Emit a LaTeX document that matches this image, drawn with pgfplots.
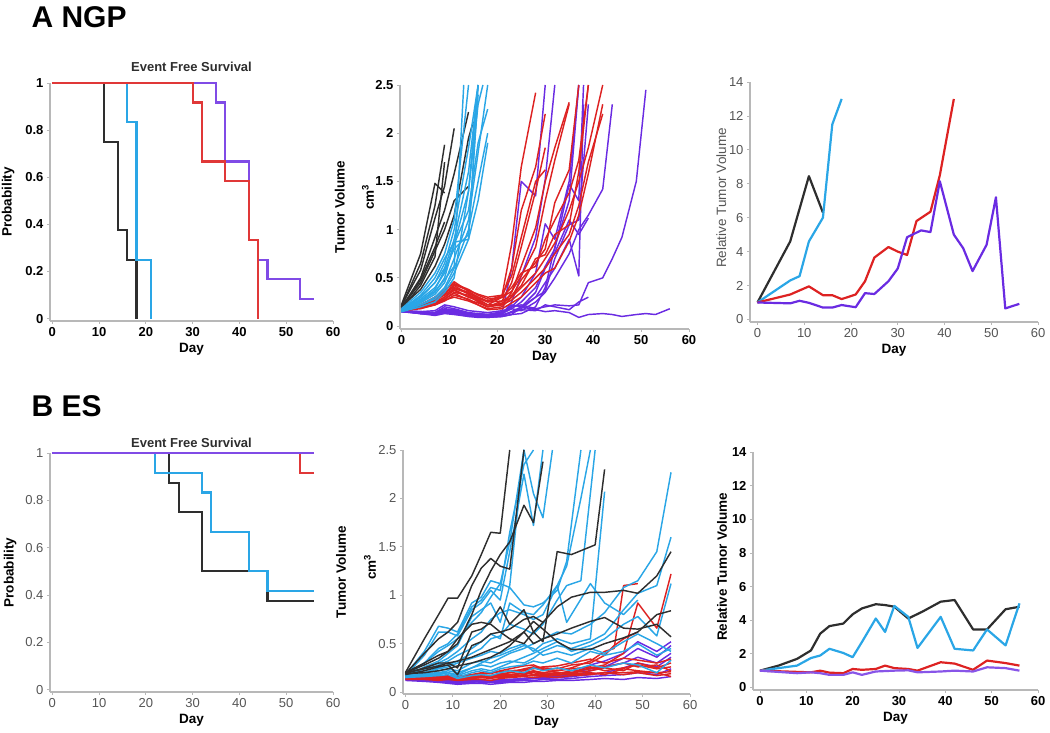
\documentclass[border=0pt]{standalone}
\usepackage{fontspec}
\setmainfont{Liberation Sans}
\usepackage{pgfplots}
\pgfplotsset{compat=1.18}
\definecolor{cblk}{HTML}{2E2E2E}
\definecolor{ccyan}{HTML}{2AA6E6}
\definecolor{cred}{HTML}{DD2222}
\definecolor{cpur}{HTML}{6A2BE2}
\definecolor{axgray}{HTML}{B8B8B8}
\definecolor{tkgray}{HTML}{555555}
\pgfplotsset{
  base/.style={scale only axis, axis lines=left,
    axis line style={draw=axgray, line width=1.2pt, -},
    tick style={draw=axgray, line width=0.8pt}, tick align=outside, major tick length=3pt,
    /pgf/number format/assume math mode=true,
    xtick={0,10,20,30,40,50,60}, clip=false,
    xlabel={Day},
    xlabel style={at={(axis description cs:0.5,0)}, anchor=center, yshift=-28pt, font=\fontsize{13.5}{15}\selectfont\bfseries},
    ylabel style={anchor=center, font=\fontsize{13.5}{15}\selectfont\bfseries},
    ticklabel style={font=\fontsize{13}{14}\selectfont},
  },
  boldticks/.style={ticklabel style={font=\fontsize{13}{14}\selectfont\bfseries, text=black}},
  grayticks/.style={ticklabel style={font=\fontsize{13}{14}\selectfont, text=tkgray}},
  km/.style={line width=2.1pt, const plot, no markers, line join=miter},
  sp/.style={line width=1.45pt, no markers, line join=round},
  rt/.style={line width=2.2pt, no markers, line join=round},
}
\begin{document}
\begin{tikzpicture}
\path[use as bounding box] (0,0) rectangle (1050pt,733pt);
\node[anchor=west, font=\fontsize{30}{32}\selectfont\bfseries] at (28pt,716pt) {A NGP};
\node[anchor=west, font=\fontsize{30}{32}\selectfont\bfseries] at (28pt,327pt) {B ES};

% ---------- TL: Event free survival NGP
\begin{axis}[base, boldticks, at={(50pt,412pt)}, anchor=south west, width=283pt, height=238pt,
  xmin=-0.5, xmax=60, ymin=-0.01, ymax=1, ytick={0,0.2,0.4,0.6,0.8,1},
  ylabel={Probability}, ylabel style={at={(axis description cs:-0.148,0.5)}}]
\addplot[km, cblk] coordinates {(0,1)(11,0.75)(14,0.375)(16,0.25)(18,0)};
\addplot[km, ccyan] coordinates {(0,1)(16,0.833)(18,0.25)(21,0)};
\addplot[km, cpur!85] coordinates {(0,1)(35,0.917)(37,0.667)(42,0.333)(44,0.25)(46,0.167)(53,0.083)(56,0.083)};
\addplot[km, cred!90] coordinates {(0,1)(30,0.917)(32,0.667)(37,0.583)(42,0.333)(44,0)};
\node[font=\fontsize{13}{14}\selectfont\bfseries, text=cblk] at (rel axis cs:0.5,1) [yshift=16pt] {Event Free Survival};
\end{axis}

% ---------- TM: tumor volume NGP
\begin{axis}[base, boldticks, at={(400pt,404pt)}, anchor=south west, width=289pt, height=244pt,
  xmin=-0.3, xmax=60, ymin=-0.03, ymax=2.5, ytick={0,0.5,1,1.5,2,2.5},
  ylabel={Tumor Volume}, ylabel style={at={(axis description cs:-0.208,0.5)}}]
% purple
\addplot[sp, cpur] coordinates {(0,0.16)(4,0.14)(7,0.13)(9,0.16)(11,0.15)(14,0.12)(16,0.12)(18,0.11)(21,0.14)(23,0.6)(25,1.5)(28,1.35)(30,2.5)};
\addplot[sp, cpur] coordinates {(0,0.15)(4,0.13)(7,0.12)(9,0.15)(11,0.14)(14,0.11)(16,0.1)(18,0.1)(21,0.12)(23,0.25)(25,0.52)(28,0.92)(30,1.52)(32,2.5)};
\addplot[sp, cpur] coordinates {(0,0.16)(4,0.15)(7,0.14)(9,0.2)(11,0.18)(14,0.14)(16,0.13)(18,0.12)(21,0.15)(23,0.2)(25,0.3)(28,0.55)(30,1.06)(32,0.9)(35,1.5)(37,2.5)};
\addplot[sp, cpur] coordinates {(0,0.15)(4,0.14)(7,0.12)(9,0.14)(11,0.16)(14,0.13)(16,0.12)(18,0.11)(21,0.13)(23,0.18)(25,0.25)(28,0.4)(30,0.62)(32,0.8)(35,1.47)(37,1.3)(38,2.5)};
\addplot[sp, cpur] coordinates {(0,0.16)(4,0.13)(7,0.11)(9,0.13)(11,0.12)(14,0.1)(16,0.1)(18,0.09)(21,0.1)(23,0.15)(25,0.2)(28,0.3)(30,0.45)(32,0.6)(35,0.9)(37,0.52)(38,2.3)};
\addplot[sp, cpur] coordinates {(0,0.15)(4,0.15)(7,0.16)(9,0.22)(11,0.2)(14,0.16)(16,0.15)(18,0.14)(21,0.16)(23,0.18)(25,0.16)(28,0.25)(30,0.35)(32,0.5)(35,0.75)(37,1.0)(39,1.15)(42,1.42)(44,2.3)};
\addplot[sp, cpur] coordinates {(0,0.16)(4,0.14)(7,0.13)(9,0.15)(11,0.14)(14,0.12)(16,0.13)(18,0.12)(21,0.14)(23,0.2)(25,0.22)(28,0.18)(30,0.2)(32,0.22)(35,0.21)(37,0.22)(39,0.45)(42,0.5)(44,0.7)(46,0.92)(49,1.5)(51,2.45)};
\addplot[sp, cpur] coordinates {(0,0.15)(4,0.13)(7,0.12)(9,0.14)(11,0.13)(14,0.11)(16,0.12)(18,0.1)(21,0.13)(23,0.22)(25,0.2)(28,0.17)(30,0.15)(32,0.16)(35,0.14)(37,0.09)(39,0.12)(42,0.13)(44,0.12)(46,0.1)(49,0.12)(51,0.13)(53,0.12)(56,0.18)};
\addplot[sp, cpur] coordinates {(0,0.16)(4,0.15)(7,0.14)(9,0.17)(11,0.16)(14,0.13)(16,0.12)(18,0.12)(21,0.11)(23,0.15)(25,0.18)(28,0.3)(30,0.36)(32,0.7)(35,1.05)(37,1.1)(39,2.3)};
\addplot[sp, cpur] coordinates {(0,0.15)(4,0.14)(7,0.13)(9,0.16)(11,0.15)(14,0.12)(16,0.11)(18,0.1)(21,0.1)(23,0.12)(25,0.2)(28,0.35)(30,0.6)(32,0.76)(35,1.1)(37,0.95)(39,1.12)};
\addplot[sp, cpur] coordinates {(0,0.16)(4,0.13)(7,0.12)(9,0.14)(11,0.13)(14,0.1)(16,0.09)(18,0.09)(21,0.1)(23,0.12)(25,0.13)(28,0.2)(30,0.4)(32,0.82)(35,1.3)(37,2.5)};
\addplot[sp, cpur] coordinates {(0,0.15)(4,0.14)(7,0.14)(9,0.18)(11,0.17)(14,0.13)(16,0.12)(18,0.11)(21,0.12)(23,0.14)(25,0.17)(28,0.16)(30,0.22)(32,0.2)(35,0.17)(37,0.25)(39,0.3)};
% red
\addplot[sp, cred] coordinates {(0,0.18)(4,0.22)(7,0.3)(9,0.36)(11,0.46)(14,0.36)(16,0.3)(18,0.26)(21,0.32)(23,0.85)(25,1.65)(28,2.42)};
\addplot[sp, cred] coordinates {(0,0.17)(4,0.2)(7,0.26)(9,0.33)(11,0.42)(14,0.33)(16,0.27)(18,0.22)(21,0.3)(23,0.6)(25,1.2)(28,1.65)(30,2.2)};
\addplot[sp, cred] coordinates {(0,0.16)(4,0.19)(7,0.24)(9,0.3)(11,0.38)(14,0.3)(16,0.26)(18,0.2)(21,0.26)(23,0.45)(25,0.82)(28,1.4)(30,1.85)};
\addplot[sp, cred] coordinates {(0,0.17)(4,0.21)(7,0.28)(9,0.35)(11,0.4)(14,0.35)(16,0.28)(18,0.22)(21,0.22)(23,0.35)(25,0.62)(28,1.02)(30,1.5)(32,1.85)(35,2.32)};
\addplot[sp, cred] coordinates {(0,0.16)(4,0.19)(7,0.23)(9,0.28)(11,0.35)(14,0.32)(16,0.25)(18,0.2)(21,0.24)(23,0.3)(25,0.48)(28,0.66)(30,0.8)(32,1.28)(35,1.62)(37,2.5)};
\addplot[sp, cred] coordinates {(0,0.17)(4,0.2)(7,0.25)(9,0.3)(11,0.37)(14,0.3)(16,0.29)(18,0.25)(21,0.3)(23,0.4)(25,0.55)(28,0.62)(30,0.9)(32,1.1)(35,1.38)(37,1.72)(39,2.5)};
\addplot[sp, cred] coordinates {(0,0.16)(4,0.18)(7,0.22)(9,0.26)(11,0.32)(14,0.28)(16,0.22)(18,0.18)(21,0.2)(23,0.3)(25,0.4)(28,0.55)(30,0.7)(32,0.86)(35,1.2)(37,1.5)(39,1.85)(42,2.5)};
\addplot[sp, cred] coordinates {(0,0.17)(4,0.2)(7,0.24)(9,0.28)(11,0.34)(14,0.27)(16,0.24)(18,0.2)(21,0.22)(23,0.27)(25,0.35)(28,0.5)(30,0.6)(32,0.75)(35,0.95)(37,1.25)(39,1.7)(42,2.2)};
\addplot[sp, cred] coordinates {(0,0.16)(4,0.19)(7,0.22)(9,0.27)(11,0.3)(14,0.26)(16,0.22)(18,0.17)(21,0.18)(23,0.24)(25,0.3)(28,0.45)(30,0.55)(32,0.6)(35,0.88)(37,1.15)(39,1.58)(42,2.3)};
\addplot[sp, cred] coordinates {(0,0.18)(4,0.22)(7,0.3)(9,0.38)(11,0.44)(14,0.38)(16,0.32)(18,0.28)(21,0.3)(23,0.36)(25,0.52)(28,0.82)(30,1.3)(32,1.72)(35,2.3)};
\addplot[sp, cred] coordinates {(0,0.17)(4,0.2)(7,0.27)(9,0.32)(11,0.39)(14,0.34)(16,0.3)(18,0.25)(21,0.26)(23,0.32)(25,0.42)(28,0.7)(30,0.74)(32,0.95)(35,1.05)(37,1.6)(39,2.5)};
\addplot[sp, cred] coordinates {(0,0.16)(4,0.21)(7,0.29)(9,0.34)(11,0.43)(14,0.37)(16,0.33)(18,0.3)(21,0.32)(23,0.52)(25,0.92)(28,1.5)(30,1.62)};
% black
\addplot[sp, cblk] coordinates {(0,0.22)(4,0.75)(7,1.48)(9,1.38)};
\addplot[sp, cblk] coordinates {(0,0.2)(4,0.65)(7,1.25)(9,1.88)};
\addplot[sp, cblk] coordinates {(0,0.21)(4,0.58)(7,1.12)(9,1.45)(11,2.05)};
\addplot[sp, cblk] coordinates {(0,0.19)(4,0.5)(7,0.92)(9,1.2)(11,1.58)(14,2.22)};
\addplot[sp, cblk] coordinates {(0,0.2)(4,0.45)(7,0.78)(9,1.0)(11,1.3)(14,1.45)};
\addplot[sp, cblk] coordinates {(0,0.18)(4,0.42)(7,0.72)(9,1.7)};
\addplot[sp, cblk] coordinates {(0,0.2)(4,0.38)(7,0.62)(9,0.85)(11,1.15)(14,1.95)(15,2.12)};
\addplot[sp, cblk] coordinates {(0,0.19)(4,0.48)(7,0.82)(9,1.08)};
% cyan
\addplot[sp, ccyan] coordinates {(0,0.18)(4,0.35)(7,0.55)(9,0.75)(11,1.1)(14,2.5)};
\addplot[sp, ccyan] coordinates {(0,0.17)(4,0.3)(7,0.45)(9,0.6)(11,0.9)(14,1.6)(16,2.5)};
\addplot[sp, ccyan] coordinates {(0,0.16)(4,0.28)(7,0.4)(9,0.55)(11,0.85)(14,1.4)(16,2.3)(17,2.5)};
\addplot[sp, ccyan] coordinates {(0,0.15)(4,0.25)(7,0.35)(9,0.5)(11,0.85)(14,1.2)(16,1.9)(18,2.25)};
\addplot[sp, ccyan] coordinates {(0,0.16)(4,0.22)(7,0.3)(9,0.4)(11,0.6)(14,1.0)(16,1.5)(18,2.0)};
\addplot[sp, ccyan] coordinates {(0,0.15)(4,0.2)(7,0.25)(9,0.35)(11,0.5)(14,1.4)(16,2.5)};
\addplot[sp, ccyan] coordinates {(0,0.17)(4,0.32)(7,0.5)(9,0.7)(11,0.87)(14,0.9)(16,2.5)};
\addplot[sp, ccyan] coordinates {(0,0.16)(4,0.3)(7,0.45)(9,0.65)(11,1.0)(14,1.85)(16,2.5)};
\addplot[sp, ccyan] coordinates {(0,0.15)(4,0.24)(7,0.33)(9,0.45)(11,0.7)(14,1.1)(16,1.8)(18,2.5)};
\addplot[sp, ccyan] coordinates {(0,0.16)(4,0.26)(7,0.38)(9,0.58)(11,0.8)(14,0.95)(16,2.4)};
\addplot[sp, ccyan] coordinates {(0,0.15)(4,0.22)(7,0.28)(9,0.38)(11,0.55)(14,0.9)(16,1.3)(18,1.9)};
\addplot[sp, ccyan] coordinates {(0,0.16)(4,0.27)(7,0.36)(9,0.48)(11,0.62)(13,2.5)};
\node[rotate=90, font=\fontsize{13.5}{15}\selectfont\bfseries] at (rel axis cs:-0.111,0.54) {cm\textsuperscript{3}};
\end{axis}

% ---------- TR: relative tumor volume NGP
\begin{axis}[base, grayticks, at={(750pt,411pt)}, anchor=south west, width=288pt, height=240pt,
  xmin=-1.6, xmax=60, ymin=-0.15, ymax=14, ytick={0,2,4,6,8,10,12,14},
  ylabel={Relative Tumor Volume}, ylabel style={at={(axis description cs:-0.10,0.517)}, font=\fontsize{13.5}{15}\selectfont, text=tkgray}]
\addplot[rt, cblk] coordinates {(0,1)(7,4.6)(11,8.45)(14,6.3)};
\addplot[rt, ccyan] coordinates {(0,1)(7,2.3)(9,2.55)(11,4.6)(14,6)(16,11.5)(18,13)};
\addplot[rt, cred] coordinates {(0,1)(7,1.47)(11,1.95)(14,1.43)(16,1.43)(18,1.2)(21,1.47)(23,2.25)(25,3.65)(28,4.27)(30,4.0)(32,3.8)(34,5.8)(37,6.35)(39,8.5)(42,13)};
\addplot[rt, cpur] coordinates {(0,1)(7,0.95)(9,1.1)(11,0.98)(14,0.7)(16,0.7)(18,0.85)(21,0.72)(23,1.55)(25,1.5)(28,2.25)(30,3.0)(32,4.85)(35,5.25)(37,5.15)(39,8.15)(42,5.0)(44,4.2)(46,2.85)(49,4.4)(51,7.2)(53,0.65)(56,0.92)};
\end{axis}

% ---------- BL: Event free survival ES
\begin{axis}[base, grayticks, at={(50pt,41pt)}, anchor=south west, width=283pt, height=239pt,
  xmin=-0.5, xmax=60, ymin=-0.01, ymax=1, ytick={0,0.2,0.4,0.6,0.8,1},
  ylabel={Probability}, ylabel style={at={(axis description cs:-0.141,0.5)}}]
\addplot[km, cblk] coordinates {(0,1)(25,0.875)(27,0.75)(32,0.5)(46,0.375)(56,0.375)};
\addplot[km, ccyan] coordinates {(0,1)(22,0.917)(32,0.833)(34,0.667)(42,0.5)(46,0.417)(56,0.417)};
\addplot[km, cred!90] coordinates {(0,1)(53,0.917)(56,0.917)};
\addplot[km, cpur!85] coordinates {(0,1)(56,1)};
\node[font=\fontsize{13}{14}\selectfont\bfseries, text=cblk] at (rel axis cs:0.5,1) [yshift=10pt] {Event Free Survival};
\end{axis}

% ---------- BM: tumor volume ES
\begin{axis}[base, grayticks, at={(403pt,39pt)}, anchor=south west, width=287pt, height=244pt,
  xmin=-0.5, xmax=60, ymin=-0.02, ymax=2.5, ytick={0,0.5,1,1.5,2,2.5},
  ylabel={Tumor Volume}, ylabel style={at={(axis description cs:-0.216,0.5)}}]
% purple
\addplot[sp, cpur] coordinates {(0,0.14)(4,0.12)(7,0.11)(9,0.1)(11,0.09)(14,0.1)(16,0.11)(18,0.1)(20,0.12)(22,0.12)(25,0.14)(27,0.15)(29,0.15)(32,0.16)(35,0.18)(39,0.28)(42,0.32)(46,0.4)(49,0.52)(53,0.42)(56,0.52)};
\addplot[sp, cpur] coordinates {(0,0.13)(4,0.12)(7,0.11)(9,0.11)(11,0.1)(14,0.11)(16,0.11)(18,0.1)(20,0.11)(22,0.12)(25,0.13)(27,0.14)(29,0.14)(32,0.15)(35,0.16)(39,0.22)(42,0.26)(46,0.35)(49,0.45)(53,0.36)(56,0.48)};
\addplot[sp, cpur] coordinates {(0,0.14)(4,0.13)(7,0.12)(9,0.12)(11,0.11)(14,0.12)(16,0.12)(18,0.11)(20,0.12)(22,0.13)(25,0.14)(27,0.14)(29,0.15)(32,0.15)(35,0.16)(39,0.18)(42,0.2)(46,0.25)(49,0.3)(53,0.26)(56,0.36)};
\addplot[sp, cpur] coordinates {(0,0.12)(4,0.11)(7,0.1)(9,0.09)(11,0.08)(14,0.09)(16,0.09)(18,0.08)(20,0.09)(22,0.1)(25,0.1)(27,0.11)(29,0.11)(32,0.12)(35,0.12)(39,0.13)(42,0.14)(46,0.13)(49,0.15)(53,0.14)(56,0.16)};
\addplot[sp, cpur] coordinates {(0,0.13)(4,0.12)(7,0.12)(9,0.11)(11,0.1)(14,0.11)(16,0.1)(18,0.1)(20,0.1)(22,0.11)(25,0.12)(27,0.12)(29,0.13)(32,0.13)(35,0.14)(39,0.16)(42,0.17)(46,0.18)(49,0.2)(53,0.18)(56,0.24)};
\addplot[sp, cpur] coordinates {(0,0.14)(4,0.13)(7,0.12)(9,0.12)(11,0.11)(14,0.12)(16,0.12)(18,0.12)(20,0.13)(22,0.13)(25,0.14)(27,0.15)(29,0.16)(32,0.17)(35,0.2)(39,0.24)(42,0.26)(46,0.3)(49,0.36)(53,0.3)(56,0.4)};
% red
\addplot[sp, cred] coordinates {(0,0.15)(4,0.15)(7,0.14)(9,0.15)(11,0.13)(14,0.15)(16,0.16)(18,0.15)(20,0.17)(22,0.18)(25,0.2)(27,0.22)(29,0.2)(32,0.22)(35,0.25)(39,0.32)(42,0.42)(44,0.45)(46,1.1)(49,1.12)};
\addplot[sp, cred] coordinates {(0,0.16)(4,0.16)(7,0.15)(9,0.16)(11,0.15)(14,0.17)(16,0.18)(18,0.17)(20,0.19)(22,0.2)(25,0.22)(27,0.25)(29,0.23)(32,0.2)(35,0.2)(39,0.25)(42,0.28)(46,0.4)(49,0.92)(53,0.66)(56,1.22)};
\addplot[sp, cred] coordinates {(0,0.15)(4,0.14)(7,0.14)(9,0.15)(11,0.14)(14,0.16)(16,0.17)(18,0.16)(20,0.18)(22,0.2)(25,0.24)(27,0.26)(29,0.25)(32,0.24)(35,0.28)(39,0.3)(42,0.38)(44,0.48)(46,0.55)(49,0.62)};
\addplot[sp, cred] coordinates {(0,0.14)(4,0.14)(7,0.13)(9,0.14)(11,0.13)(14,0.14)(16,0.15)(18,0.14)(20,0.16)(22,0.17)(25,0.2)(27,0.18)(29,0.19)(32,0.17)(35,0.2)(39,0.22)(42,0.25)(46,0.22)(49,0.3)(53,0.25)(56,0.3)};
\addplot[sp, cred] coordinates {(0,0.15)(4,0.15)(7,0.15)(9,0.16)(11,0.16)(14,0.18)(16,0.2)(18,0.19)(20,0.22)(22,0.24)(25,0.27)(27,0.28)(29,0.24)(32,0.22)(35,0.24)(39,0.26)(42,0.22)(46,0.25)(49,0.28)(53,0.24)(56,0.26)};
\addplot[sp, cred] coordinates {(0,0.13)(4,0.13)(7,0.12)(9,0.13)(11,0.12)(14,0.13)(16,0.13)(18,0.12)(20,0.14)(22,0.15)(25,0.16)(27,0.15)(29,0.16)(32,0.15)(35,0.17)(39,0.18)(42,0.2)(46,0.18)(49,0.2)(53,0.17)(56,0.19)};
\addplot[sp, cred] coordinates {(0,0.14)(4,0.15)(7,0.14)(9,0.15)(11,0.15)(14,0.16)(16,0.16)(18,0.17)(20,0.18)(22,0.18)(25,0.19)(27,0.21)(29,0.2)(32,0.19)(35,0.22)(39,0.24)(42,0.26)(46,0.3)(49,0.26)(53,0.28)(56,0.22)};
\addplot[sp, cred] coordinates {(0,0.15)(4,0.14)(7,0.13)(9,0.15)(11,0.14)(14,0.15)(16,0.17)(18,0.16)(20,0.17)(22,0.16)(25,0.18)(27,0.2)(29,0.18)(32,0.2)(35,0.19)(39,0.2)(42,0.18)(46,0.24)(49,0.22)(53,0.2)(56,0.16)};
\addplot[sp, cred] coordinates {(0,0.16)(4,0.16)(7,0.16)(9,0.17)(11,0.16)(14,0.18)(16,0.19)(18,0.2)(20,0.21)(22,0.22)(25,0.23)(27,0.24)(29,0.26)(32,0.27)(35,0.3)(39,0.34)(42,0.3)(46,0.35)(49,0.33)(53,0.3)(56,0.34)};
\addplot[sp, cred] coordinates {(0,0.14)(4,0.14)(7,0.14)(9,0.14)(11,0.13)(14,0.14)(16,0.15)(18,0.15)(20,0.15)(22,0.16)(25,0.17)(27,0.17)(29,0.17)(32,0.18)(35,0.18)(39,0.19)(42,0.2)(46,0.2)(49,0.21)(53,0.2)(56,0.21)};
% cyan
\addplot[sp, ccyan] coordinates {(0,0.18)(4,0.42)(7,0.68)(9,0.66)(11,0.62)(14,0.92)(16,0.98)(18,1.15)(20,1.12)(22,1.55)(25,2.5)};
\addplot[sp, ccyan] coordinates {(0,0.17)(4,0.38)(7,0.62)(9,0.62)(11,0.58)(14,0.85)(16,0.92)(18,1.05)(20,0.95)(22,1.45)(25,2.25)(27,1.72)(29,2.5)};
\addplot[sp, ccyan] coordinates {(0,0.18)(4,0.3)(7,0.45)(9,0.5)(11,0.6)(14,0.88)(16,0.95)(18,1.08)(20,1.05)(22,1.65)(25,2.35)(27,2.5)};
\addplot[sp, ccyan] coordinates {(0,0.16)(4,0.26)(7,0.32)(9,0.4)(11,0.48)(14,0.78)(16,0.85)(18,0.92)(20,0.72)(22,1.1)(25,2.5)(27,2.05)(29,1.8)(31,2.5)};
\addplot[sp, ccyan] coordinates {(0,0.16)(4,0.3)(7,0.42)(9,0.48)(11,0.55)(14,0.72)(16,0.82)(18,0.98)(20,1.12)(22,1.08)(25,0.9)(27,0.88)(29,0.92)(32,1.05)(34,1.35)(37,2.5)};
\addplot[sp, ccyan] coordinates {(0,0.17)(4,0.24)(7,0.3)(9,0.35)(11,0.42)(14,0.55)(16,0.62)(18,0.75)(20,0.82)(22,0.85)(25,0.8)(27,0.75)(29,0.8)(32,1.1)(34,1.3)(37,2.0)(39,2.5)};
\addplot[sp, ccyan] coordinates {(0,0.16)(4,0.22)(7,0.28)(9,0.32)(11,0.38)(14,0.45)(16,0.52)(18,0.6)(20,0.55)(22,0.92)(25,0.82)(27,0.8)(29,0.9)(32,1.1)(34,0.72)(39,1.12)(42,0.92)(46,0.8)(49,0.95)};
\addplot[sp, ccyan] coordinates {(0,0.16)(4,0.2)(7,0.24)(9,0.26)(11,0.3)(14,0.35)(16,0.38)(18,0.42)(20,0.4)(22,0.45)(25,0.5)(27,0.42)(29,0.5)(32,0.55)(35,0.5)(39,0.55)(42,2.07)};
\addplot[sp, ccyan] coordinates {(0,0.17)(4,0.2)(7,0.22)(9,0.24)(11,0.22)(14,0.3)(16,0.32)(18,0.3)(20,0.35)(22,0.4)(25,0.45)(27,0.5)(29,0.55)(32,0.62)(35,0.6)(39,0.7)(42,0.82)(46,1.08)(49,1.15)(53,1.45)(56,2.27)};
\addplot[sp, ccyan] coordinates {(0,0.16)(4,0.18)(7,0.2)(9,0.22)(11,0.2)(14,0.25)(16,0.28)(18,0.26)(20,0.3)(22,0.32)(25,0.3)(27,0.35)(29,0.42)(32,0.48)(35,0.45)(39,0.52)(42,0.6)(46,0.85)(49,1.02)(53,1.1)(56,1.6)};
\addplot[sp, ccyan] coordinates {(0,0.16)(4,0.18)(7,0.19)(9,0.2)(11,0.17)(14,0.22)(16,0.24)(18,0.22)(20,0.26)(22,0.3)(25,0.36)(27,0.4)(29,0.45)(32,0.52)(35,0.42)(39,0.48)(42,0.55)(46,0.7)(49,0.78)(53,0.58)(56,1.12)};
\addplot[sp, ccyan] coordinates {(0,0.15)(4,0.17)(7,0.18)(9,0.2)(11,0.15)(14,0.2)(16,0.22)(18,0.2)(20,0.24)(22,0.26)(25,0.28)(27,0.32)(29,0.3)(32,0.35)(35,0.3)(39,0.42)(42,0.38)(46,0.42)(49,0.5)(53,0.38)(56,0.45)};
\addplot[sp, ccyan] coordinates {(0,0.15)(4,0.16)(7,0.17)(9,0.18)(11,0.14)(14,0.17)(16,0.18)(18,0.17)(20,0.2)(22,0.22)(25,0.2)(27,0.25)(29,0.22)(32,0.25)(35,0.22)(39,0.28)(42,0.25)(46,0.3)(49,0.28)(53,0.2)(56,0.33)};
\addplot[sp, ccyan] coordinates {(0,0.16)(4,0.2)(7,0.25)(9,0.28)(11,0.32)(14,0.4)(16,0.45)(18,0.55)(20,0.58)(22,0.7)(25,0.65)(27,0.6)(29,0.7)(32,0.95)(34,1.1)(37,1.15)(40,2.5)};
\addplot[sp, ccyan] coordinates {(0,0.17)(4,0.19)(7,0.2)(9,0.2)(11,0.18)(14,0.25)(16,0.3)(18,0.35)(20,0.38)(22,0.42)(25,0.48)(27,0.45)(29,0.38)(32,0.42)(35,0.38)(39,0.45)(42,0.4)(46,0.52)(49,0.6)(53,0.5)(56,0.42)};
% black
\addplot[sp, cblk] coordinates {(0,0.2)(4,0.55)(7,0.8)(9,0.97)(11,0.97)(14,1.2)(16,1.42)(18,1.65)(20,1.64)(22,2.5)};
\addplot[sp, cblk] coordinates {(0,0.19)(4,0.4)(7,0.55)(9,0.62)(11,0.72)(14,1.1)(16,1.28)(18,1.38)(20,1.3)(22,1.27)(25,2.5)};
\addplot[sp, cblk] coordinates {(0,0.2)(4,0.3)(7,0.38)(9,0.42)(11,0.5)(14,0.8)(16,1.05)(18,1.25)(20,1.42)(22,1.55)(25,1.93)(27,1.75)(29,2.38)};
\addplot[sp, cblk] coordinates {(0,0.19)(4,0.25)(7,0.3)(9,0.3)(11,0.25)(14,0.62)(16,0.65)(18,0.72)(20,0.88)(22,0.7)(25,0.85)(27,0.62)(29,0.52)(32,1.45)(35,1.42)(40,1.52)(42,2.3)};
\addplot[sp, cblk] coordinates {(0,0.18)(4,0.22)(7,0.26)(9,0.28)(11,0.18)(14,0.48)(16,0.52)(18,0.6)(20,0.62)(22,0.55)(25,0.5)(27,0.62)(29,0.72)(32,0.88)(35,0.98)(39,1.03)(42,1.03)(46,1.05)(49,1.02)(53,1.2)(56,1.45)};
\addplot[sp, cblk] coordinates {(0,0.2)(4,0.24)(7,0.27)(9,0.3)(11,0.32)(14,0.36)(16,0.4)(18,0.44)(20,0.48)(22,0.52)(25,0.62)(27,0.73)(29,0.65)(32,0.52)(35,0.44)(39,0.44)(42,0.5)(46,0.56)(49,0.62)(53,0.8)(56,0.84)};
\addplot[sp, cblk] coordinates {(0,0.19)(4,0.2)(7,0.22)(9,0.24)(11,0.27)(14,0.3)(16,0.33)(18,0.36)(20,0.41)(22,0.48)(25,0.62)(27,0.5)(29,0.55)(32,0.6)(35,0.66)(39,0.73)(42,0.77)(46,0.66)(49,0.65)(53,0.7)(56,0.57)};
\addplot[sp, cblk] coordinates {(0,0.2)(4,0.28)(7,0.35)(9,0.42)(11,0.55)(14,0.7)(16,0.72)(18,0.7)(20,0.62)(22,0.65)(25,0.75)(27,0.78)(29,0.72)};
\node[rotate=90, font=\fontsize{13.5}{15}\selectfont\bfseries] at (rel axis cs:-0.115,0.52) {cm\textsuperscript{3}};
\end{axis}

% ---------- BR: relative tumor volume ES
\begin{axis}[base, boldticks, at={(753pt,43pt)}, anchor=south west, width=285pt, height=238pt,
  xmin=-1.5, xmax=60, ymin=-0.15, ymax=14, ytick={0,2,4,6,8,10,12,14},
  ylabel={Relative Tumor Volume}, ylabel style={at={(axis description cs:-0.109,0.517)}}]
\addplot[rt, cblk] coordinates {(0,1)(4,1.3)(8,1.7)(11,2.2)(13,3.2)(15,3.65)(18,3.8)(20,4.35)(22,4.7)(25,4.95)(27,4.9)(29,4.8)(32,4.1)(35,4.5)(39,5.1)(42,5.2)(46,3.45)(49,3.45)(53,4.65)(56,4.8)};
\addplot[rt, ccyan] coordinates {(0,1)(8,1.3)(11,1.75)(13,1.9)(15,2.3)(18,2.05)(20,1.8)(22,2.7)(25,4.1)(27,3.3)(29,4.85)(32,4.2)(34,2.35)(39,4.2)(42,2.3)(46,2.2)(49,3.45)(53,2.5)(56,5.0)};
\addplot[rt, cred] coordinates {(0,1)(11,0.9)(13,1.0)(15,0.88)(18,0.85)(20,1.1)(22,1.05)(25,1.1)(27,1.3)(29,1.15)(32,1.1)(34,1.0)(39,1.5)(42,1.42)(46,1.05)(49,1.6)(53,1.45)(56,1.3)};
\addplot[rt, cpur!80] coordinates {(0,1)(8,0.85)(11,0.9)(13,0.85)(15,0.75)(18,0.75)(20,0.9)(22,0.75)(25,0.95)(29,1.0)(32,1.02)(34,0.9)(39,0.95)(42,1.0)(46,0.95)(49,1.2)(53,1.15)(56,1.0)};
\end{axis}
\end{tikzpicture}
\end{document}
